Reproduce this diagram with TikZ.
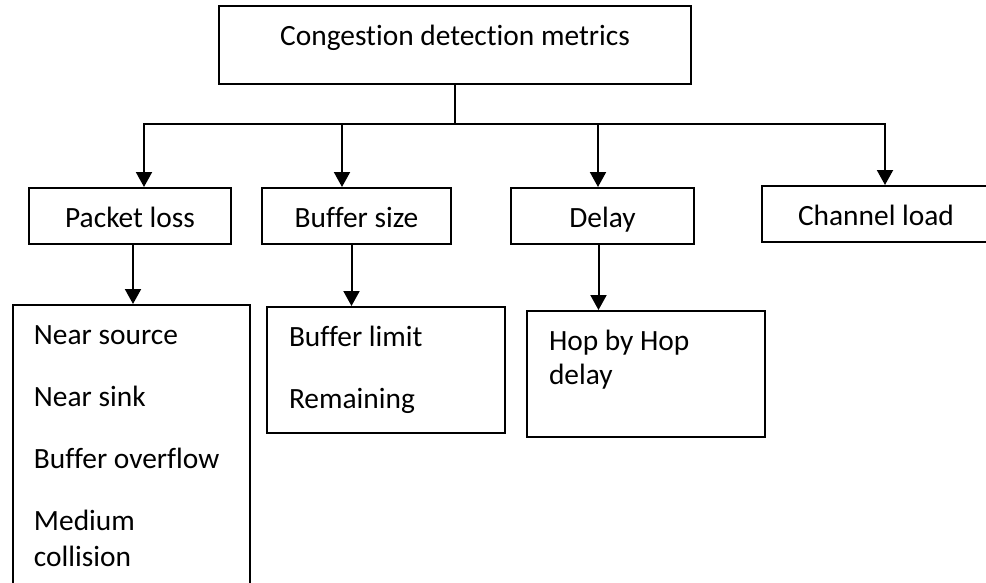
\documentclass[tikz,border=0pt]{standalone}
\usepackage{fontspec}
\setmainfont{Carlito}[Ligatures=NoCommon]
\usetikzlibrary{arrows.meta}
\begin{document}
\begin{tikzpicture}[x=1pt,y=-1pt,
  lbl/.style={font=\fontsize{29.4}{36}\selectfont},
  box/.style={draw, line width=2pt, inner sep=0pt, lbl},
  metric/.style={box, minimum height=56pt, text height=22pt, text depth=0pt},
  listbox/.style={box, anchor=north west, align=flush left, inner xsep=21pt, inner ysep=0pt, text height=39pt},
  conn/.style={line width=2pt},
  arr/.style={conn, -{Triangle[length=15pt,width=16pt]}}]
\useasboundingbox (0,0) rectangle (986,582);
\clip (0,0) rectangle (986,582);

% root
\node[box, minimum width=472pt, minimum height=78pt, text height=20pt, text depth=20pt] (top) at (455,45) {Congestion detection metrics};

% metric categories
\node[metric, minimum width=202pt] (pl) at (130,216) {Packet loss};
\node[metric, minimum width=189pt] (bs) at (356.5,216) {Buffer size};
\node[metric, minimum width=183pt] (dl) at (602.5,216) {Delay};
\node[metric, minimum width=228pt] (ch) at (876,214) {Channel load};

% detail lists
\node[listbox, text width=195pt, text depth=257pt] (ns) at (12,304)
  {Near source\\[26pt]Near sink\\[26pt]Buffer overflow\\[26pt]Medium\\collision};
\node[listbox, inner xsep=22pt, text width=194pt, text depth=87pt] (blim) at (266,306)
  {Buffer limit\\[26pt]Remaining};
\node[listbox, inner xsep=22pt, text width=194pt, text depth=87pt] (hop) at (526,310)
  {Hop by Hop\\[-2pt]delay};

% distribution bus
\coordinate (b1) at (144,124);
\coordinate (b2) at (342,124);
\coordinate (b3) at (598,124);
\coordinate (b4) at (885,124);
\draw[conn] (top.south) -- (top.south |- b1);
\draw[conn, {Triangle[length=15pt,width=16pt]}-{Triangle[length=15pt,width=16pt]}]
  (b1 |- pl.north) -- (b1) -- (b4) -- (b4 |- ch.north);
\draw[arr] (b2) -- (b2 |- bs.north);
\draw[arr] (b3) -- (b3 |- dl.north);

% links to detail lists
\coordinate (a1) at ([xshift=3pt]pl.south);
\coordinate (a2) at ([xshift=-5pt]bs.south);
\coordinate (a3) at ([xshift=-4pt]dl.south);
\draw[arr] (a1) -- (a1 |- ns.north);
\draw[arr] (a2) -- (a2 |- blim.north);
\draw[arr] (a3) -- (a3 |- hop.north);
\end{tikzpicture}
\end{document}
